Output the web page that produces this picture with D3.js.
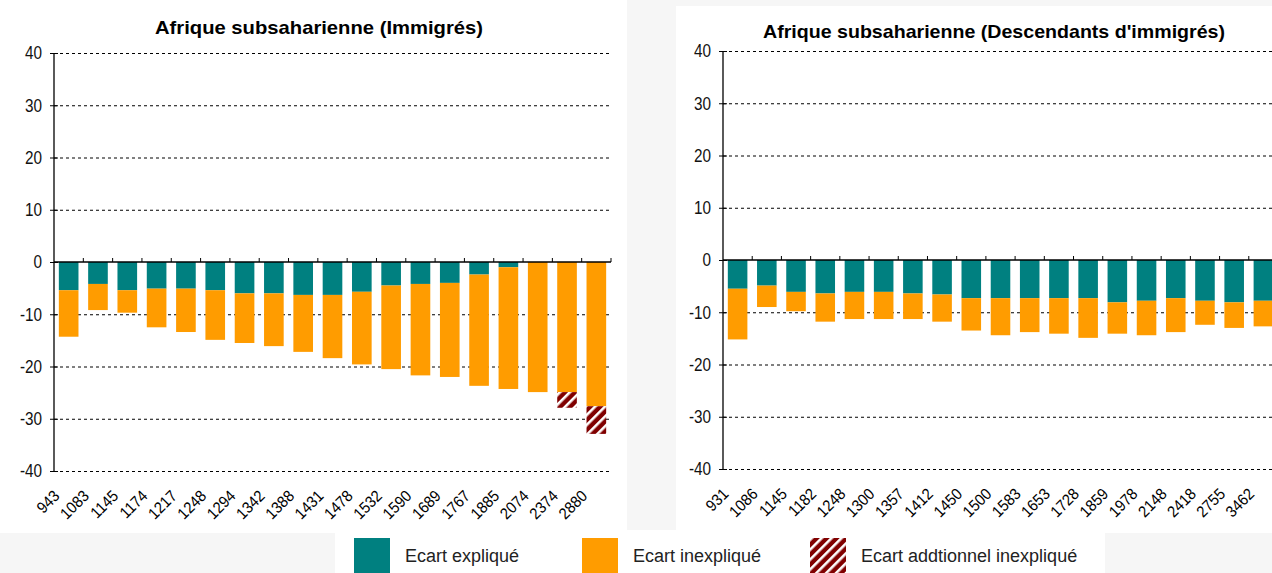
<!DOCTYPE html>
<html>
<head>
<meta charset="utf-8">
<script src="https://cdn.jsdelivr.net/npm/d3@7"></script>
<style>
  body { margin: 0; background: #f6f6f6; }
  svg { display: block; }
</style>
</head>
<body>
<svg id="vis" width="1272" height="573"></svg>
<script>
// ---- data ----
const immCategories = ["943","1083","1145","1174","1217","1248","1294","1342","1388","1431",
                       "1478","1532","1590","1689","1767","1885","2074","2374","2880"];
// explained gap (teal), unexplained gap (orange), additional unexplained (hatched)
const immExplained   = [-5.4,-4.2,-5.4,-5.1,-5.1,-5.4,-6.0,-6.0,-6.3,-6.3,-5.7,-4.5,-4.2,-4.0,-2.4,-1.0,0,0,0];
const immUnexplained = [-8.9,-5.0,-4.3,-7.4,-8.3,-9.5,-9.5,-10.1,-10.9,-12.1,-13.9,-16.0,-17.5,-18.0,-21.3,-23.3,-24.9,-24.9,-27.6];
const immAdditional  = [0,0,0,0,0,0,0,0,0,0,0,0,0,0,0,0,0,-3.0,-5.3];

const descCategories = ["931","1086","1145","1182","1248","1300","1357","1412","1450","1500",
                        "1583","1653","1728","1859","1978","2148","2418","2755","3462"];
const descExplained   = [-5.5,-4.9,-6.1,-6.4,-6.1,-6.1,-6.4,-6.6,-7.3,-7.3,-7.3,-7.3,-7.3,-8.1,-7.8,-7.3,-7.8,-8.1,-7.8];
const descUnexplained = [-9.7,-4.1,-3.7,-5.4,-5.2,-5.2,-4.9,-5.2,-6.2,-7.1,-6.5,-6.8,-7.6,-6.0,-6.6,-6.5,-4.6,-4.9,-4.9];
const descAdditional  = [0,0,0,0,0,0,0,0,0,0,0,0,0,0,0,0,0,0,0];

const yTicks = [40, 30, 20, 10, 0, -10, -20, -30, -40];

const COLOURS = {explained: "#008080", unexplained: "#ff9c00", additional: "#800000"};
const FONT = "Liberation Sans, Arial, sans-serif";

const legendItems = [
    {label: "Ecart expliqué", fill: COLOURS.explained},
    {label: "Ecart inexpliqué", fill: COLOURS.unexplained},
    {label: "Ecart addtionnel inexpliqué", fill: "url(#hatch)"}
];

const svg = d3.select("#vis");

// hatch pattern for the additional gap
const defs = svg.append("defs");
const pat = defs.append("pattern")
    .attr("id", "hatch")
    .attr("patternUnits", "userSpaceOnUse")
    .attr("width", 7).attr("height", 7)
    .attr("patternTransform", "rotate(45)");
pat.append("rect").attr("width", 7).attr("height", 7).attr("fill", COLOURS.additional);
pat.append("rect").attr("x", 0).attr("width", 2.6).attr("height", 7).attr("fill", "#fff");

// white panels behind the charts
svg.append("rect").attr("x", 0).attr("y", 0).attr("width", 627).attr("height", 533).attr("fill", "#fff");
svg.append("rect").attr("x", 676).attr("y", 6).attr("width", 596).attr("height", 527).attr("fill", "#fff");
svg.append("rect").attr("x", 335).attr("y", 530).attr("width", 770).attr("height", 43).attr("fill", "#fff");

/**
 * draws one stacked bar panel
 */
function drawPanel(opts){
    const x = d3.scaleBand()
        .domain(opts.categories)
        .range(opts.xRange)
        .paddingInner(0.33)
        .paddingOuter(0.165);
    const y = d3.scaleLinear()
        .domain([-40, 40])
        .range(opts.yRange);
    const left = opts.xRange[0], right = opts.xRange[1];
    const g = svg.append("g");

    // dashed gridlines
    g.append("g")
        .attr("transform", `translate(${left},0)`)
        .call(d3.axisLeft(y).tickValues(yTicks.filter(d => d !== 0)).tickSize(-(opts.gridEnd - left)).tickFormat(""))
        .call(a => a.select(".domain").remove())
        .call(a => a.selectAll("line").attr("stroke", "#000").attr("stroke-dasharray", "3,3"));

    // stacked bars
    const rows = opts.categories.map((c, i) => ({
        cat: c,
        expl: opts.explained[i],
        unexpl: opts.unexplained[i],
        add: opts.additional[i]
    }));
    const bars = g.append("g");
    bars.selectAll(".expl").data(rows).enter().append("rect")
        .attr("x", d => x(d.cat))
        .attr("width", x.bandwidth())
        .attr("y", y(0))
        .attr("height", d => y(d.expl) - y(0))
        .attr("fill", COLOURS.explained);
    bars.selectAll(".unexpl").data(rows).enter().append("rect")
        .attr("x", d => x(d.cat))
        .attr("width", x.bandwidth())
        .attr("y", d => y(d.expl))
        .attr("height", d => y(d.expl + d.unexpl) - y(d.expl))
        .attr("fill", COLOURS.unexplained);
    bars.selectAll(".add").data(rows.filter(d => d.add !== 0)).enter().append("rect")
        .attr("x", d => x(d.cat))
        .attr("width", x.bandwidth())
        .attr("y", d => y(d.expl + d.unexpl))
        .attr("height", d => y(d.expl + d.unexpl + d.add) - y(d.expl + d.unexpl))
        .attr("fill", "url(#hatch)");

    // zero line with ticks between categories
    g.append("line")
        .attr("x1", left).attr("x2", right)
        .attr("y1", y(0)).attr("y2", y(0))
        .attr("stroke", "#000").attr("stroke-width", 1.3);
    g.append("g").selectAll("line")
        .data(opts.categories)
        .enter().append("line")
        .attr("x1", (d, i) => left + (i + 1) * x.step())
        .attr("x2", (d, i) => left + (i + 1) * x.step())
        .attr("y1", y(0) - 4).attr("y2", y(0))
        .attr("stroke", "#000");

    // y axis
    const yAxis = g.append("g")
        .attr("transform", `translate(${left},0)`)
        .call(d3.axisLeft(y).tickValues(yTicks).tickFormat(d => String(d)).tickSize(4).tickPadding(11))
        .call(a => a.select(".domain").attr("d", `M0,${y(40)}V${y(-40)}`).attr("stroke", "#000").attr("stroke-width", 1.3));
    yAxis.selectAll(".tick line").attr("x1", -4).attr("x2", 4).attr("stroke", "#000");
    yAxis.selectAll("text")
        .attr("font-family", FONT)
        .attr("font-size", 18)
        .attr("fill", "#111")
        .attr("x", -12 / 0.85)
        .attr("transform", "scale(0.85,1)");

    // category labels
    const xAxis = g.append("g")
        .attr("transform", `translate(0,${y(-40)})`)
        .call(d3.axisBottom(x).tickSize(0));
    xAxis.select(".domain").remove();
    xAxis.selectAll("text")
        .attr("font-family", FONT)
        .attr("font-size", 16)
        .attr("fill", "#000")
        .attr("text-anchor", "end")
        .attr("dy", 0)
        .attr("y", 0)
        .attr("transform", "translate(-8,26) rotate(-45) scale(0.92,1)");

    // title
    g.append("text")
        .attr("x", opts.titleX)
        .attr("y", opts.titleY)
        .attr("text-anchor", "middle")
        .attr("font-family", FONT)
        .attr("font-size", 19)
        .attr("font-weight", "bold")
        .attr("textLength", opts.titleWidth)
        .attr("lengthAdjust", "spacingAndGlyphs")
        .text(opts.title);
}

drawPanel({
    categories: immCategories,
    explained: immExplained,
    unexplained: immUnexplained,
    additional: immAdditional,
    xRange: [54, 611],
    gridEnd: 609,
    yRange: [471, 53],
    title: "Afrique subsaharienne (Immigrés)",
    titleX: 319,
    titleY: 34,
    titleWidth: 328
});

drawPanel({
    categories: descCategories,
    explained: descExplained,
    unexplained: descUnexplained,
    additional: descAdditional,
    xRange: [723, 1278],
    gridEnd: 1278,
    yRange: [469, 51],
    title: "Afrique subsaharienne (Descendants d'immigrés)",
    titleX: 994,
    titleY: 38,
    titleWidth: 462
});

// legend
const legend = svg.append("g").selectAll("g")
    .data(legendItems)
    .enter().append("g")
    .attr("transform", (d, i) => `translate(${354 + i * 228},538)`);
legend.append("rect")
    .attr("width", 36).attr("height", 36)
    .attr("fill", d => d.fill);
legend.append("text")
    .attr("x", 51).attr("y", 24)
    .attr("font-family", FONT)
    .attr("font-size", 18)
    .attr("fill", "#222")
    .text(d => d.label);
</script>
</body>
</html>
